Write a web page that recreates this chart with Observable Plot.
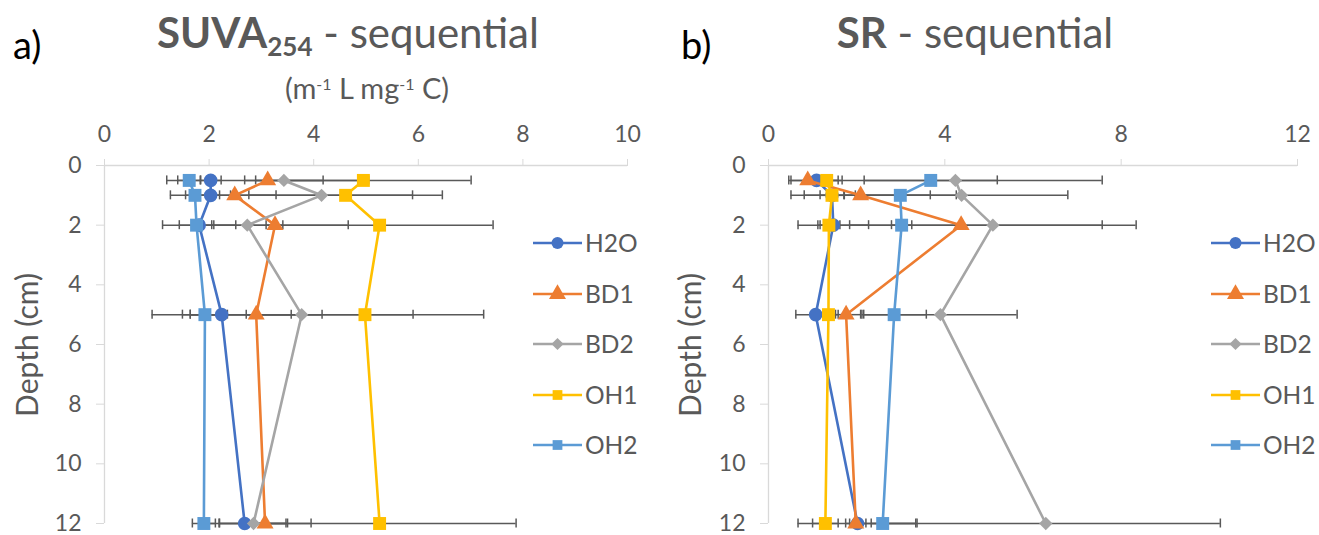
<!DOCTYPE html>
<html>
<head>
<meta charset="utf-8">
<script src="https://cdn.jsdelivr.net/npm/d3@7"></script>
<script src="https://cdn.jsdelivr.net/npm/@observablehq/plot@0.6"></script>
<style>
  html, body { margin: 0; padding: 0; background: #fff; }
  #wrap { position: relative; width: 1319px; height: 535px; overflow: hidden; font-family: Lato, "Open Sans", sans-serif; color: #595959; }
  .abs { position: absolute; white-space: nowrap; line-height: 1; }
  .panel { position: absolute; top: 0; }
  .legend { position: absolute; }
  .legend .item { position: absolute; left: 0; height: 24px; font-size: 24.5px; line-height: 24px; color: #595959; white-space: nowrap; }
  .legend svg { position: absolute; left: 0; top: 2px; }
  .legend span { position: absolute; left: 52px; top: 0; }
</style>
</head>
<body>
<div id="wrap"></div>
<script>
// ---------- data ----------
const depths = [0.5, 1, 2, 5, 12];
const seriesNames = ["H2O", "BD1", "BD2", "OH1", "OH2"];
const seriesColors = ["#4472C4", "#ED7D31", "#A5A5A5", "#FFC000", "#5B9BD5"];
const seriesSymbols = ["circle", "triangle", "diamond2", "square", "square"];

// SUVA254 (m-1 L mg-1 C)
const suvaH2O = [2.03, 2.03, 1.81, 2.24, 2.68];
const suvaBD1 = [3.12, 2.49, 3.26, 2.90, 3.07];
const suvaBD2 = [3.43, 4.15, 2.73, 3.77, 2.85];
const suvaOH1 = [4.95, 4.61, 5.26, 4.98, 5.26];
const suvaOH2 = [1.62, 1.73, 1.76, 1.92, 1.90];
const suvaErrH2O = [0.20, 0.48, 0.70, 1.33, 0.79];
const suvaErrBD1 = [1.93, 0.79, 1.40, 1.26, 0.88];
const suvaErrBD2 = [0.75, 1.74, 0.68, 2.13, 0.65];
const suvaErrOH1 = [2.06, 1.85, 2.17, 2.27, 2.61];
const suvaErrOH2 = [0.22, 0.47, 0.33, 0.43, 0.22];

// SR
const srH2O = [1.09, 1.44, 1.47, 1.07, 2.02];
const srBD1 = [0.89, 2.09, 4.37, 1.76, 1.98];
const srBD2 = [4.24, 4.38, 5.09, 3.90, 6.29];
const srOH1 = [1.32, 1.44, 1.37, 1.36, 1.29];
const srOH2 = [3.68, 2.99, 3.02, 2.85, 2.59];
const srErrH2O = [0.58, 0.27, 0.80, 0.45, 1.35];
const srErrBD1 = [0.43, 1.58, 3.20, 0.33, 0.23];
const srErrBD2 = [3.33, 2.41, 3.25, 1.74, 3.96];
const srErrOH1 = [0.26, 0.63, 0.25, 0.22, 0.29];
const srErrOH2 = [1.51, 1.27, 0.23, 0.73, 0.75];

const suvaTicks = [0, 2, 4, 6, 8, 10];
const srTicks = [0, 4, 8, 12];
const depthTicks = [0, 2, 4, 6, 8, 10, 12];

// ---------- build ----------
function rows(valsList, errList) {
  const out = [];
  seriesNames.forEach((s, i) => {
    depths.forEach((d, j) => {
      out.push({series: s, depth: d, value: valsList[i][j], err: errList[i][j]});
    });
  });
  return out;
}
const suvaData = rows([suvaH2O, suvaBD1, suvaBD2, suvaOH1, suvaOH2],
                      [suvaErrH2O, suvaErrBD1, suvaErrBD2, suvaErrOH1, suvaErrOH2]);
const srData = rows([srH2O, srBD1, srBD2, srOH1, srOH2],
                    [srErrH2O, srErrBD1, srErrBD2, srErrOH1, srErrOH2]);

const FONT = "Lato, 'Open Sans', sans-serif";
const AXIS = "#d9d9d9";
const TEXT = "#595959";
const ERR = "#595959";
const symR = {circle: 6.8, triangle: 6.3, diamond2: 6.0, square: 7.3};

function panel(data, xDomain, xTicks, opts) {
  const marks = [
    Plot.ruleY([0], {x1: xDomain[0], x2: xDomain[1], stroke: AXIS, strokeWidth: 1.3}),
    Plot.ruleX([0], {y1: 0, y2: 12, stroke: AXIS, strokeWidth: 1.3}),
    Plot.axisX({anchor: "top", ticks: xTicks, tickSize: 7, tickPadding: 17, stroke: AXIS, fill: TEXT, label: null, tickFormat: d => String(d)}),
    Plot.axisY({anchor: "left", ticks: depthTicks, tickSize: 8, tickPadding: 15, stroke: AXIS, fill: TEXT, label: null, tickFormat: d => String(d)}),
    Plot.ruleY(data, {y: "depth", x1: d => d.value - d.err, x2: d => d.value + d.err, stroke: ERR, strokeWidth: 1.5}),
    Plot.ruleX(data, {x: d => d.value - d.err, y1: "depth", y2: "depth", insetTop: -4.5, insetBottom: -4.5, stroke: ERR, strokeWidth: 1.5}),
    Plot.ruleX(data, {x: d => d.value + d.err, y1: "depth", y2: "depth", insetTop: -4.5, insetBottom: -4.5, stroke: ERR, strokeWidth: 1.5})
  ];
  seriesNames.forEach((s, i) => {
    const sd = data.filter(d => d.series === s);
    marks.push(Plot.line(sd, {x: "value", y: "depth", stroke: seriesColors[i], strokeWidth: 2.6}));
    marks.push(Plot.dot(sd, {x: "value", y: "depth", fill: seriesColors[i], stroke: "none",
      symbol: () => seriesSymbols[i], r: symR[seriesSymbols[i]]}));
  });
  return Plot.plot({
    width: opts.width, height: 535,
    marginLeft: opts.ml, marginRight: opts.mr, marginTop: 165, marginBottom: 12,
    style: {fontFamily: FONT, fontSize: "23px", color: TEXT, background: "transparent", overflow: "visible"},
    x: {domain: xDomain, axis: null},
    y: {domain: [0, 12], reverse: true, axis: null},
    symbol: {type: "identity"},
    marks
  });
}

const wrap = document.getElementById("wrap");

const p1 = panel(suvaData, [0, 10], suvaTicks, {width: 660, ml: 104, mr: 33});
p1.classList.add("panel"); p1.style.left = "0px";
wrap.appendChild(p1);
const p2 = panel(srData, [0, 12], srTicks, {width: 659, ml: 108, mr: 22});
p2.classList.add("panel"); p2.style.left = "660px";
wrap.appendChild(p2);

function addText(html, css) {
  const el = document.createElement("div");
  el.className = "abs";
  el.innerHTML = html;
  Object.assign(el.style, css);
  wrap.appendChild(el);
  return el;
}
function centerAt(el, cx) {
  const w = el.getBoundingClientRect().width;
  el.style.left = (cx - w / 2) + "px";
}

addText("a)", {left: "13px", top: "25px", fontSize: "38px", color: "#000"});
addText("b)", {left: "681px", top: "25px", fontSize: "38px", color: "#000"});
const t1 = addText('<b>SUVA<sub style="font-size:0.62em;vertical-align:-0.32em;">254</sub></b> - sequential', {top: "11px", fontSize: "42px"});
centerAt(t1, 348);
const st1 = addText('(m<sup style="font-size:0.55em;vertical-align:0.55em;">-1</sup> L mg<sup style="font-size:0.55em;vertical-align:0.55em;">-1</sup> C)', {top: "73px", fontSize: "29px"});
centerAt(st1, 367);
const t2 = addText('<b>SR</b> - sequential', {top: "11px", fontSize: "42px"});
centerAt(t2, 975);
function yTitle(cx) {
  const el = addText("Depth (cm)", {fontSize: "30px"});
  const r = el.getBoundingClientRect();
  el.style.left = (cx - r.width / 2) + "px";
  el.style.top = (345 - r.height / 2) + "px";
  el.style.transform = "rotate(-90deg)";
  return el;
}
yTitle(26);
yTitle(689);

function legend(left, top, gap) {
  const lg = document.createElement("div");
  lg.className = "legend";
  lg.style.left = left + "px"; lg.style.top = top + "px";
  seriesNames.forEach((s, i) => {
    const it = document.createElement("div");
    it.className = "item";
    it.style.top = (i * gap) + "px";
    const sw = d3.create("svg").attr("width", 50).attr("height", 20);
    sw.append("line").attr("x1", 0).attr("x2", 49).attr("y1", 10).attr("y2", 10)
      .attr("stroke", seriesColors[i]).attr("stroke-width", 2.6);
    const sym = {circle: d3.symbolCircle, triangle: d3.symbolTriangle, diamond2: d3.symbolDiamond2, square: d3.symbolSquare}[seriesSymbols[i]];
    const rr = seriesSymbols[i] === "circle" ? 6 : seriesSymbols[i] === "triangle" ? 6.3 : 5.5;
    sw.append("path").attr("transform", "translate(24.5,10)").attr("d", d3.symbol(sym, Math.PI * rr * rr)()).attr("fill", seriesColors[i]);
    it.appendChild(sw.node());
    const tx = document.createElement("span");
    tx.textContent = s;
    it.appendChild(tx);
    lg.appendChild(it);
  });
  wrap.appendChild(lg);
}
legend(533, 231, 50.5);
legend(1211, 231, 50.5);
</script>
</body>
</html>
